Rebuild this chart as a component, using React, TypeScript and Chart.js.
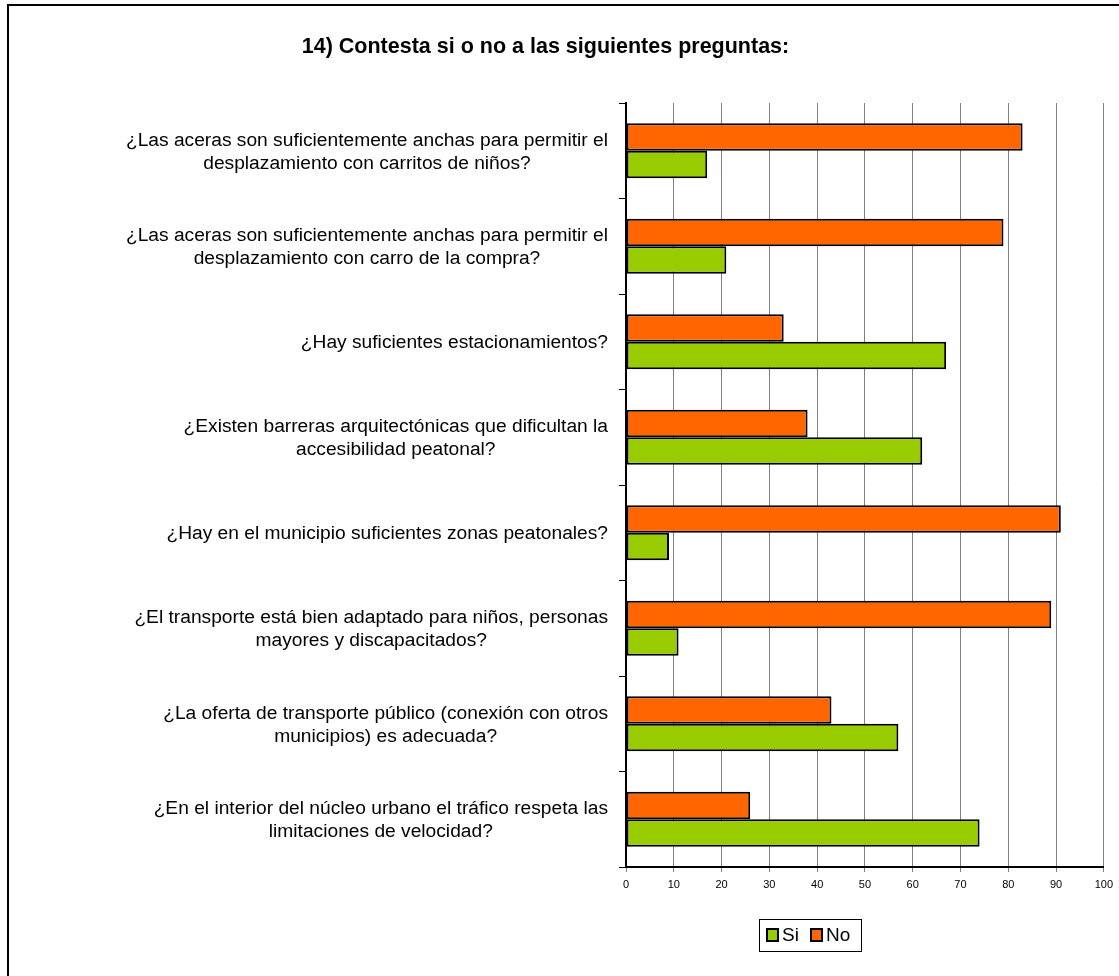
import React, { useEffect, useRef } from "react";
import { Chart, registerables } from "chart.js";

Chart.register(...registerables);

const titleText = "14) Contesta si o no a las siguientes preguntas:";

const categories: string[][] = [
  ["¿Las aceras son suficientemente anchas para permitir el", "desplazamiento con carritos de niños?"],
  ["¿Las aceras son suficientemente anchas para permitir el", "desplazamiento con carro de la compra?"],
  ["¿Hay suficientes estacionamientos?"],
  ["¿Existen barreras arquitectónicas que dificultan la", "accesibilidad peatonal?"],
  ["¿Hay en el municipio suficientes zonas peatonales?"],
  ["¿El transporte está bien adaptado para niños, personas", "mayores y discapacitados?"],
  ["¿La oferta de transporte público (conexión con otros", "municipios) es adecuada?"],
  ["¿En el interior del núcleo urbano el tráfico respeta las", "limitaciones de velocidad?"],
];

const siValues = [17, 21, 67, 62, 9, 11, 57, 74];
const noValues = [83, 79, 33, 38, 91, 89, 43, 26];

const seriesNames = ["Si", "No"];
const seriesColors = ["#99CC00", "#FF6600"];

const xTicks = [0, 10, 20, 30, 40, 50, 60, 70, 80, 90, 100];

const FONT = "'Liberation Sans', Arial, Helvetica, sans-serif";

const framePlugin = {
  id: "frame",
  beforeDraw(chart: any) {
    const ctx = chart.ctx;
    ctx.save();
    ctx.fillStyle = "#ffffff";
    ctx.fillRect(0, 0, chart.width, chart.height);
    ctx.strokeStyle = "#000000";
    ctx.lineWidth = 2;
    ctx.beginPath();
    ctx.moveTo(8, chart.height);
    ctx.lineTo(8, 5);
    ctx.lineTo(chart.width, 5);
    ctx.stroke();
    ctx.restore();
  },
};

const textPlugin = {
  id: "texts",
  afterDraw(chart: any) {
    const ctx = chart.ctx;
    const yScale = chart.scales.y;
    ctx.save();
    // title
    ctx.fillStyle = "#000000";
    ctx.font = `bold 21.5px ${FONT}`;
    ctx.textAlign = "center";
    ctx.textBaseline = "middle";
    ctx.fillText(titleText, 545.5, 47);

    // category labels: block right-aligned, lines centered within block
    ctx.font = `19.2px ${FONT}`;
    const rightEdge = 608;
    const lineH = 23;
    categories.forEach((lines, i) => {
      const yc = yScale.getPixelForValue(i);
      const w = Math.max(...lines.map((l) => ctx.measureText(l).width));
      const cx = rightEdge - w / 2;
      const y0 = yc - ((lines.length - 1) * lineH) / 2;
      lines.forEach((l, j) => {
        ctx.fillText(l, cx, y0 + j * lineH + 1);
      });
    });

    // legend
    const lx = 759, ly = 919, lw = 102, lh = 32;
    ctx.lineWidth = 1;
    ctx.strokeStyle = "#000000";
    ctx.strokeRect(lx + 0.5, ly + 0.5, lw, lh);
    ctx.font = `19px ${FONT}`;
    ctx.textAlign = "left";
    const items = [
      { name: seriesNames[0], color: seriesColors[0], bx: 766, tx: 782 },
      { name: seriesNames[1], color: seriesColors[1], bx: 810, tx: 826 },
    ];
    items.forEach((it) => {
      ctx.fillStyle = it.color;
      ctx.fillRect(it.bx, 928, 13, 14);
      ctx.lineWidth = 2;
      ctx.strokeStyle = "#000000";
      ctx.strokeRect(it.bx + 1, 929, 11, 12);
      ctx.fillStyle = "#000000";
      ctx.fillText(it.name, it.tx, 936);
    });
    ctx.restore();
  },
};

export default function App() {
  const ref = useRef<HTMLCanvasElement | null>(null);

  useEffect(() => {
    if (!ref.current) return;
    const chart = new Chart(ref.current, {
      type: "bar",
      data: {
        labels: categories.map((c) => c.join(" ")),
        datasets: [
          {
            label: seriesNames[1],
            data: noValues,
            backgroundColor: seriesColors[1],
            borderColor: "#000000",
            borderWidth: 2,
            borderSkipped: false,
            categoryPercentage: 0.576,
            barPercentage: 1,
          },
          {
            label: seriesNames[0],
            data: siValues,
            backgroundColor: seriesColors[0],
            borderColor: "#000000",
            borderWidth: 2,
            borderSkipped: false,
            categoryPercentage: 0.576,
            barPercentage: 1,
          },
        ],
      },
      options: {
        indexAxis: "y",
        responsive: false,
        animation: false,
        events: [],
        layout: { padding: { top: 103, right: 13, left: 0, bottom: 0 } },
        plugins: {
          legend: { display: false },
          title: { display: false },
          tooltip: { enabled: false },
        },
        scales: {
          x: {
            type: "linear",
            min: 0,
            max: 100,
            position: "bottom",
            afterBuildTicks: (scale: any) => {
              scale.ticks = xTicks.map((v) => ({ value: v }));
            },
            afterFit: (scale: any) => {
              scale.height = 109;
            },
            grid: {
              color: "#808080",
              lineWidth: 1,
              tickLength: 5,
              drawTicks: true,
            },
            border: { color: "#000000", width: 2 },
            ticks: {
              color: "#000000",
              font: { size: 11, family: FONT },
              padding: 6,
              maxRotation: 0,
            },
          },
          y: {
            type: "category",
            offset: true,
            afterFit: (scale: any) => {
              scale.width = 626;
            },
            grid: {
              offset: true,
              drawOnChartArea: false,
              drawTicks: true,
              tickLength: 7,
              color: "#000000",
              lineWidth: 1,
            },
            border: { color: "#000000", width: 2 },
            ticks: { display: false },
          },
        },
      },
      plugins: [framePlugin, textPlugin],
    });
    return () => chart.destroy();
  }, []);

  return (
    <div style={{ position: "fixed", left: 0, top: 0, width: 1119, height: 976, overflow: "hidden", background: "#fff" }}>
      <canvas ref={ref} width={1119} height={976} style={{ display: "block", width: 1119, height: 976 }} />
    </div>
  );
}
